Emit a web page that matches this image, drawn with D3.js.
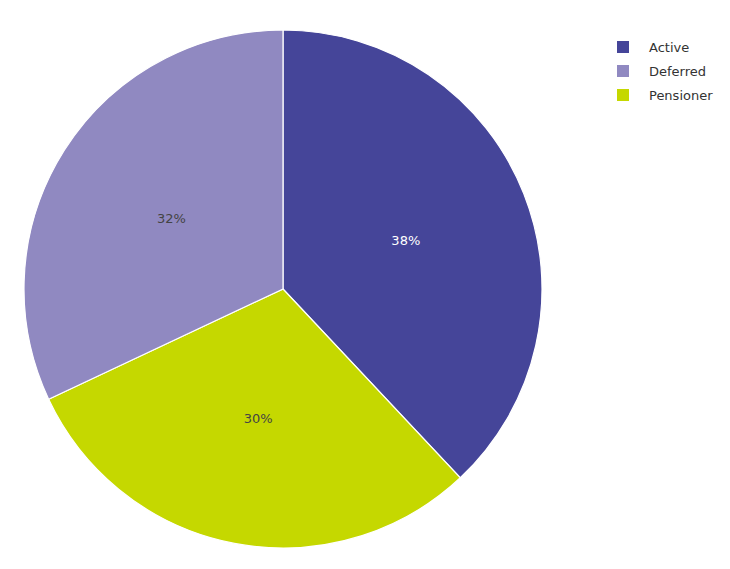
<!DOCTYPE html>
<html><head><meta charset="utf-8">
<script src="https://cdn.jsdelivr.net/npm/d3@7"></script>
<style>body{margin:0;background:#fff}</style></head>
<body><svg id="c" width="730" height="569"></svg>
<script>
const categories=["Active","Pensioner","Deferred"];
const values=[38,30,32];
const colors=["#454599","#c5d800","#9089c1"];
const labelColors=["#ffffff","#444444","#444444"];
const legendOrder=["Active","Deferred","Pensioner"];
const svg=d3.select("#c");
const cx=283,cy=289,r=259;
const pie=d3.pie().sort(null).value(d=>d)(values);
const arc=d3.arc().innerRadius(0).outerRadius(r);
const g=svg.append("g").attr("transform",`translate(${cx},${cy})`);
g.selectAll("path").data(pie).join("path").attr("d",arc)
 .attr("fill",(d,i)=>colors[i]).attr("stroke","#fff").attr("stroke-width",1.2);
g.selectAll("text").data(pie).join("text")
 .attr("transform",d=>{const c=d3.arc().innerRadius(0).outerRadius(r*1.02).centroid(d);return `translate(${c})`;})
 .attr("text-anchor","middle").attr("dy","0.35em")
 .attr("font-family","DejaVu Sans, Verdana, sans-serif").attr("font-size",13)
 .attr("fill",(d,i)=>labelColors[i]).text(d=>d.data+"%");
const lg=svg.append("g");
legendOrder.forEach((name,k)=>{
 const i=categories.indexOf(name);
 const y=47+k*24;
 lg.append("rect").attr("x",617).attr("y",y-6).attr("width",12).attr("height",12).attr("fill",colors[i]);
 lg.append("text").attr("x",649).attr("y",y).attr("dy","0.35em")
  .attr("font-family","DejaVu Sans, Verdana, sans-serif").attr("font-size",13).attr("fill","#333").text(name);
});
</script></body></html>
